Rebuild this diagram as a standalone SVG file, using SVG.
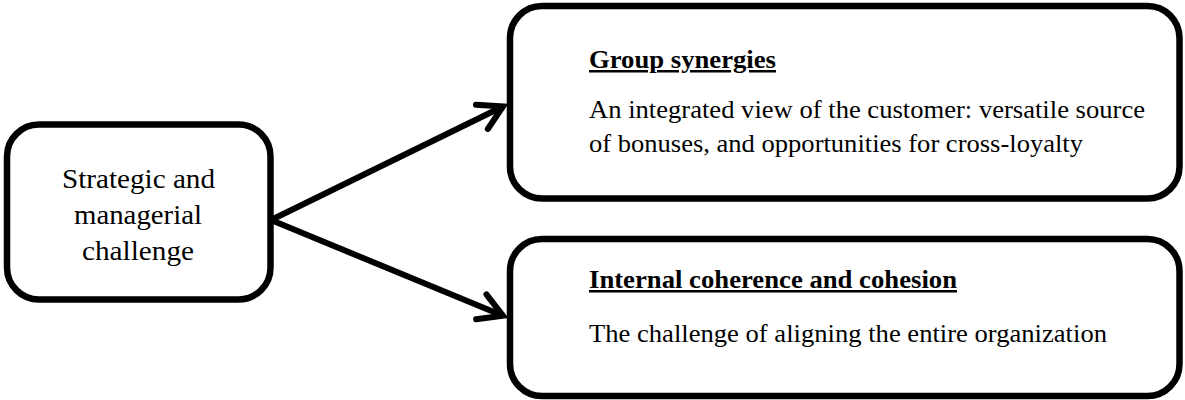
<svg xmlns="http://www.w3.org/2000/svg" width="1185" height="400" viewBox="0 0 1185 400">
<style>
.box{fill:#fff;stroke:#000;stroke-width:6.5}
.t{font-family:"Liberation Serif","Times New Roman",serif;fill:#000}
.c{font-size:27px;text-anchor:middle}
.h{font-size:25px;font-weight:bold;text-decoration:underline}
.b{font-size:25px}
.conn{stroke:#000;stroke-width:6;fill:none}
</style>
<defs>
<marker id="arr" markerWidth="40" markerHeight="40" refX="0" refY="0" orient="auto" markerUnits="userSpaceOnUse" viewBox="-30 -20 40 40" overflow="visible">
<path d="M-23.5,-13.5 L0,0 L-23.5,13.5" fill="none" stroke="#000" stroke-width="6" stroke-linecap="round" stroke-linejoin="miter"/>
</marker>
</defs>
<rect width="1185" height="400" fill="#fff"/>
<g id="connectors">
<line class="conn" x1="271" y1="220" x2="503" y2="106.5" marker-end="url(#arr)"/>
<line class="conn" x1="271" y1="220" x2="503" y2="315.8" marker-end="url(#arr)"/>
</g>
<g id="node-left">
<rect class="box" x="7" y="124.5" width="263.5" height="175" rx="32"/>
<text class="t c" x="138.5" y="188" textLength="153" lengthAdjust="spacingAndGlyphs">Strategic and</text>
<text class="t c" x="138" y="224" textLength="128" lengthAdjust="spacingAndGlyphs">managerial</text>
<text class="t c" x="138" y="260" textLength="112" lengthAdjust="spacingAndGlyphs">challenge</text>
</g>
<g id="node-synergies">
<rect class="box" x="510" y="6" width="669.5" height="192.5" rx="32"/>
<text class="t h" x="589" y="68" textLength="187" lengthAdjust="spacingAndGlyphs">Group synergies</text>
<text class="t b" x="589" y="118" textLength="556" lengthAdjust="spacingAndGlyphs">An integrated view of the customer: versatile source</text>
<text class="t b" x="589" y="152" textLength="494" lengthAdjust="spacingAndGlyphs">of bonuses, and opportunities for cross-loyalty</text>
</g>
<g id="node-coherence">
<rect class="box" x="510" y="239" width="669.5" height="157" rx="32"/>
<text class="t h" x="589" y="288" textLength="368" lengthAdjust="spacingAndGlyphs">Internal coherence and cohesion</text>
<text class="t b" x="589" y="342" textLength="518" lengthAdjust="spacingAndGlyphs">The challenge of aligning the entire organization</text>
</g>
</svg>
